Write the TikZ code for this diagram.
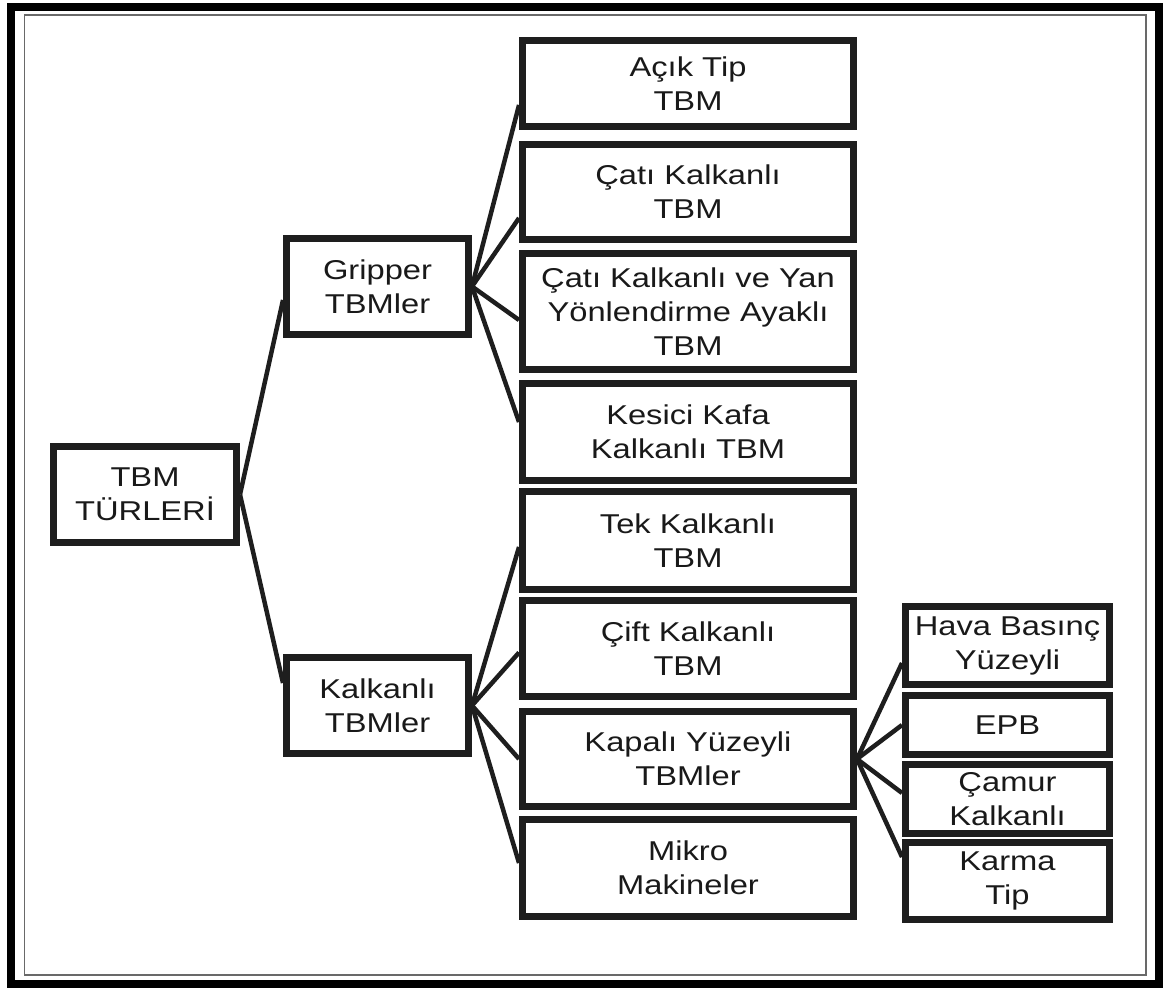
\documentclass[tikz,border=0pt]{standalone}
\usepackage{fontspec}
\setmainfont{Liberation Sans}[FakeStretch=1.2]
\usepackage{tikz}
\usetikzlibrary{positioning}
\usepackage{xcolor}
\definecolor{boxblack}{RGB}{30,30,30}
\definecolor{textblack}{RGB}{25,25,25}
\definecolor{framegray}{RGB}{105,105,105}

\begin{document}
\begin{tikzpicture}[
  x=0.02cm, y=-0.02cm,
  font=\fontsize{15.5}{19.3}\selectfont,
  typebox/.style={
    rectangle,
    draw=boxblack,
    line width=0.14cm,
    fill=white,
    text=textblack,
    align=center,
    inner sep=1pt
  },
  rootbox/.style={typebox, minimum width=3.66cm, minimum height=1.92cm},
  groupbox/.style={typebox, minimum width=3.64cm, minimum height=1.92cm},
  leafbox/.style={typebox, minimum width=6.62cm, minimum height=#1},
  subbox/.style={typebox, minimum width=4.08cm, minimum height=#1},
  link/.style={line width=0.09cm, draw=boxblack}
]

% page frame
\useasboundingbox (0,0) rectangle (1166,990);
\draw[line width=0.16cm, draw=black] (11,7) rectangle (1159,984);
\draw[line width=0.04cm, draw=framegray] (24.5,15) rectangle (1146,974.5);

% main levels
\node[rootbox] (root) at (145,494.5) {TBM\\TÜRLERİ};
\node[groupbox] (gripper) at (377.5,286.5) {Gripper\\TBMler};
\node[groupbox] (kalkanli) at (377.5,705.5) {Kalkanlı\\TBMler};

% gripper types
\node[leafbox=1.72cm] (acik) at (688,83.5) {Açık Tip\\TBM};
\node[leafbox=1.90cm] (cati) at (688,192) {Çatı Kalkanlı\\TBM};
\node[leafbox=2.32cm] (catiyan) at (688,311.5) {Çatı Kalkanlı ve Yan\\Yönlendirme Ayaklı\\TBM};
\node[leafbox=1.94cm] (kesici) at (688,432) {Kesici Kafa\\Kalkanlı TBM};

% shielded types
\node[leafbox=1.96cm] (tek) at (688,540.5) {Tek Kalkanlı\\TBM};
\node[leafbox=1.92cm] (cift) at (688,648.5) {Çift Kalkanlı\\TBM};
\node[leafbox=1.90cm] (kapali) at (688,759) {Kapalı Yüzeyli\\TBMler};
\node[leafbox=1.94cm] (mikro) at (688,868) {Mikro\\Makineler};

% closed face types
\node[subbox=1.56cm] (hava) at (1007.5,645.5) {Hava Basınç\\Yüzeyli};
\node[subbox=1.18cm] (epb) at (1007.5,725) {EPB};
\node[subbox=1.38cm] (camur) at (1007.5,799) {Çamur\\Kalkanlı};
\node[subbox=1.54cm] (karma) at (1007.5,881) {Karma\\Tip};

\draw[link] (root.east) -- ([yshift=-0.27cm]gripper.west);
\draw[link] (root.east) -- ([yshift=0.45cm]kalkanli.west);

\draw[link] (gripper.east) -- ([yshift=-0.43cm]acik.west);
\draw[link] (gripper.east) -- ([yshift=-0.52cm]cati.west);
\draw[link] (gripper.east) -- ([yshift=-0.17cm]catiyan.west);
\draw[link] (gripper.east) -- ([yshift=0.2cm]kesici.west);

\draw[link] (kalkanli.east) -- ([yshift=-0.13cm]tek.west);
\draw[link] (kalkanli.east) -- ([yshift=-0.08cm]cift.west);
\draw[link] (kalkanli.east) -- (kapali.west);
\draw[link] (kalkanli.east) -- ([yshift=0.1cm]mikro.west);

\draw[link] (kapali.east) -- ([yshift=-0.35cm]hava.west);
\draw[link] (kapali.east) -- (epb.west);
\draw[link] (kapali.east) -- ([yshift=0.12cm]camur.west);
\draw[link] (kapali.east) -- ([yshift=0.48cm]karma.west);

\end{tikzpicture}
\end{document}
